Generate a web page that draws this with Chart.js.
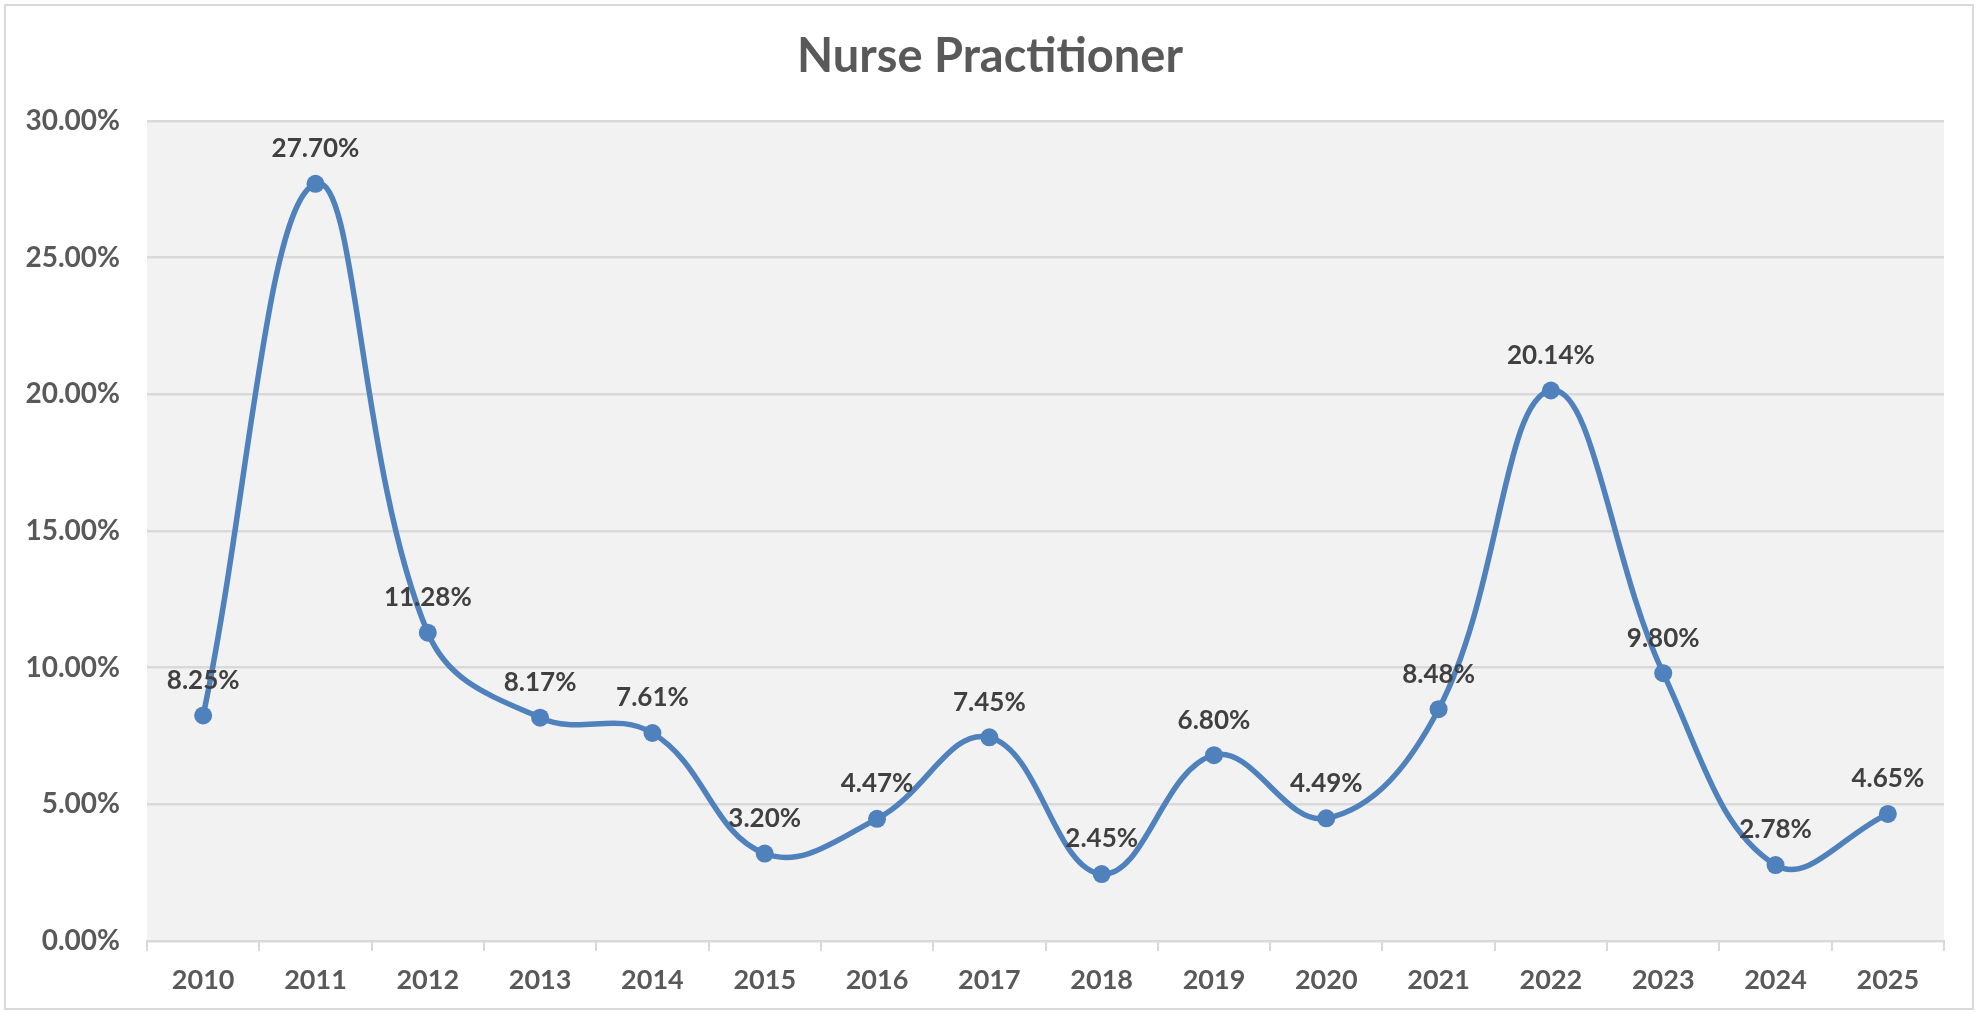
<!DOCTYPE html>
<html>
<head>
<meta charset="utf-8">
<script src="https://cdn.jsdelivr.net/npm/chart.js@4.4.1/dist/chart.umd.min.js"></script>
<style>
  html, body { margin: 0; padding: 0; background: #fff; }
  #wrap { width: 1983px; height: 1012px; }
</style>
</head>
<body>
<div id="wrap"><canvas id="chart" width="1983" height="1012"></canvas></div>
<script>
const years = ['2010', '2011', '2012', '2013', '2014', '2015', '2016', '2017',
               '2018', '2019', '2020', '2021', '2022', '2023', '2024', '2025']
const growth = [8.25, 27.70, 11.28, 8.17, 7.61, 3.20, 4.47, 7.45,
                2.45, 6.80, 4.49, 8.48, 20.14, 9.80, 2.78, 4.65]
const yTicks = [0, 5, 10, 15, 20, 25, 30]
const chartTitle = 'Nurse Practitioner'

const FONT = 'Lato, "Liberation Sans Narrow", sans-serif'
const pct = v => Number(v).toFixed(2) + '%'

// grey plot background + outer frame + title
const frame = {
  id: 'frame',
  beforeDraw(chart) {
    const { ctx, chartArea: a } = chart
    ctx.save()
    ctx.fillStyle = '#f2f2f2'
    ctx.fillRect(a.left, a.top, a.right - a.left, a.bottom - a.top)
    ctx.strokeStyle = '#d9d9d9'
    ctx.lineWidth = 2
    ctx.strokeRect(5, 5, 1968, 1004)
    ctx.fillStyle = '#595959'
    ctx.font = 'bold 47px ' + FONT
    ctx.textAlign = 'center'
    ctx.textBaseline = 'middle'
    ctx.fillText(chartTitle, 990, 57)
    ctx.restore()
  }
}

// value labels above each point
const valueLabels = {
  id: 'valueLabels',
  afterDatasetsDraw(chart) {
    const { ctx } = chart
    const meta = chart.getDatasetMeta(0)
    ctx.save()
    ctx.fillStyle = '#404040'
    ctx.font = 'bold 26px ' + FONT
    ctx.textAlign = 'center'
    ctx.textBaseline = 'middle'
    meta.data.forEach((pt, i) => {
      ctx.fillText(pct(growth[i]), pt.x, pt.y - 35)
    })
    ctx.restore()
  }
}

new Chart(document.getElementById('chart'), {
  type: 'line',
  data: {
    labels: years,
    datasets: [{
      data: growth,
      borderColor: '#4f81bd',
      backgroundColor: '#4f81bd',
      borderWidth: 5.5,
      tension: 0.4,
      pointRadius: 9,
      pointBorderWidth: 0,
      pointBackgroundColor: '#4f81bd',
      clip: false
    }]
  },
  options: {
    responsive: false,
    animation: false,
    layout: { padding: { left: 0, right: 39, top: 121, bottom: 0 } },
    plugins: {
      legend: { display: false },
      title: { display: false },
      tooltip: { enabled: false }
    },
    scales: {
      x: {
        offset: true,
        afterFit: s => { s.height = 71 },
        grid: {
          offset: true,
          drawOnChartArea: false,
          drawTicks: true,
          tickLength: 10,
          color: '#d9d9d9',
          lineWidth: 2
        },
        border: { color: '#d9d9d9', width: 2 },
        ticks: {
          color: '#595959',
          padding: 13,
          maxRotation: 0,
          font: { family: FONT, size: 27, weight: 'bold' }
        }
      },
      y: {
        min: 0,
        max: 30,
        afterFit: s => { s.width = 147 },
        afterBuildTicks: s => { s.ticks = yTicks.map(v => ({ value: v })) },
        grid: { color: '#d9d9d9', lineWidth: 2.5, drawTicks: false },
        border: { display: false },
        ticks: {
          color: '#595959',
          padding: 27,
          callback: v => pct(v),
          font: { family: FONT, size: 28, weight: 'bold' }
        }
      }
    }
  },
  plugins: [frame, valueLabels]
})
</script>
</body>
</html>
